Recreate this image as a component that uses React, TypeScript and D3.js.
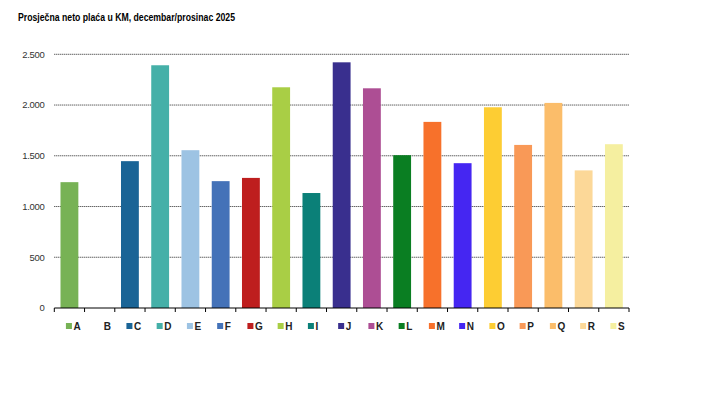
import React from "react";
import * as d3 from "d3";

const categories = ["A","B","C","D","E","F","G","H","I","J","K","L","M","N","O","P","Q","R","S"];
const values: (number | null)[] = [1240, null, 1447, 2392, 1555, 1250, 1282, 2175, 1133, 2421, 2165, 1506, 1834, 1427, 1978, 1607, 2021, 1356, 1614];
const colors = ["#77B255","#FFFFFF","#1A6496","#45B0A8","#9DC3E3","#4472B8","#BE1E1E","#A9CE45","#0B8078","#392F8E","#AD4E94","#0A7E22","#F7712B","#4526F2","#FDCD33","#F99957","#FBBD6A","#FCD898","#F5EFA0"];
const yTicks = [0, 500, 1000, 1500, 2000, 2500];
const title = "Prosječna neto plaća u KM, decembar/prosinac 2025";

export default function App() {
  const W = 719, H = 395;
  const left = 54.3, right = 629, top = 54.3, bottom = 308;
  const x = d3.scaleBand<string>().domain(categories).range([left, right]).paddingInner(0.41).paddingOuter(0.205);
  const xOuter = d3.scaleBand<string>().domain(categories).range([left, right]);
  const y = d3.scaleLinear().domain([0, 2500]).range([bottom, top]);
  const fmt = (v: number) => d3.format(",")(v).replace(/,/g, ".");
  const font = "'Liberation Sans', Arial, sans-serif";
  return (
    <svg width={W} height={H} style={{ position: "absolute", left: 0, top: 0, background: "#fff" }}>
      <text x={18} y={20.5} fontFamily={font} fontWeight="bold" fontSize={10.5} fill="#000" textLength={217} lengthAdjust="spacingAndGlyphs">{title}</text>
      {yTicks.map((t) => (
        <g key={t}>
          {t > 0 && (
            <line x1={left} x2={right} y1={y(t)} y2={y(t)} stroke="#222" strokeWidth={1} strokeDasharray="1,1" />
          )}
          <text x={44.5} y={y(t)} dy="0.35em" textAnchor="end" fontFamily={font} fontSize={9.5} fill="#333" style={{ letterSpacing: "-0.3px" }}>{fmt(t)}</text>
        </g>
      ))}
      {categories.map((c, i) => {
        const v = values[i];
        if (v == null) return null;
        return <rect key={c} x={x(c)} y={y(v)} width={x.bandwidth()} height={bottom - y(v)} fill={colors[i]} />;
      })}
      <line x1={left} x2={right} y1={bottom} y2={bottom} stroke="#000" strokeWidth={1} />
      {categories.map((c) => (
        <line key={"t" + c} x1={xOuter(c)! + xOuter.bandwidth()} x2={xOuter(c)! + xOuter.bandwidth()} y1={bottom} y2={bottom + 4} stroke="#000" strokeWidth={1} />
      ))}
      <line x1={left} x2={left} y1={bottom} y2={bottom + 4} stroke="#000" strokeWidth={1} />
      {categories.map((c, i) => {
        const cx = xOuter(c)! + xOuter.bandwidth() / 2;
        return (
          <g key={"l" + c}>
            {values[i] != null && <rect x={cx - 3.5} y={323} width={6} height={6} fill={colors[i]} />}
            <text x={cx + 4} y={330} fontFamily={font} fontWeight="bold" fontSize={10} fill="#222" style={{ letterSpacing: "-0.3px" }}>{c}</text>
          </g>
        );
      })}
    </svg>
  );
}
